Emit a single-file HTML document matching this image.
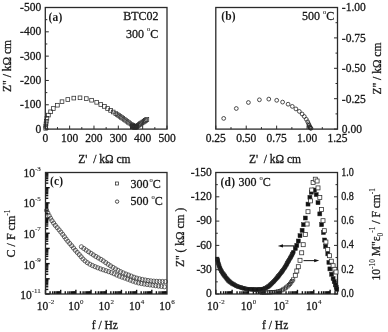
<!DOCTYPE html>
<html><head><meta charset="utf-8"><style>
html,body{margin:0;padding:0;background:#fff;}
svg{display:block;filter:blur(0.35px);}
text{font-family:"Liberation Serif", serif;fill:#1a1a1a;stroke:#1a1a1a;stroke-width:0.3px;}
.s{stroke-width:0.1px;}
</style></head><body>
<svg width="388" height="332" viewBox="0 0 388 332">
<rect width="388" height="332" fill="#fff"/>
<line x1="45.30" y1="129.10" x2="45.30" y2="125.60" stroke="#2a2a2a" stroke-width="1.0"/>
<line x1="45.30" y1="129.10" x2="48.80" y2="129.10" stroke="#2a2a2a" stroke-width="1.0"/>
<line x1="57.47" y1="129.10" x2="57.47" y2="127.10" stroke="#2a2a2a" stroke-width="1.0"/>
<line x1="45.30" y1="116.94" x2="47.30" y2="116.94" stroke="#2a2a2a" stroke-width="1.0"/>
<line x1="69.64" y1="129.10" x2="69.64" y2="125.60" stroke="#2a2a2a" stroke-width="1.0"/>
<line x1="45.30" y1="104.78" x2="48.80" y2="104.78" stroke="#2a2a2a" stroke-width="1.0"/>
<line x1="81.81" y1="129.10" x2="81.81" y2="127.10" stroke="#2a2a2a" stroke-width="1.0"/>
<line x1="45.30" y1="92.62" x2="47.30" y2="92.62" stroke="#2a2a2a" stroke-width="1.0"/>
<line x1="93.98" y1="129.10" x2="93.98" y2="125.60" stroke="#2a2a2a" stroke-width="1.0"/>
<line x1="45.30" y1="80.46" x2="48.80" y2="80.46" stroke="#2a2a2a" stroke-width="1.0"/>
<line x1="106.15" y1="129.10" x2="106.15" y2="127.10" stroke="#2a2a2a" stroke-width="1.0"/>
<line x1="45.30" y1="68.30" x2="47.30" y2="68.30" stroke="#2a2a2a" stroke-width="1.0"/>
<line x1="118.32" y1="129.10" x2="118.32" y2="125.60" stroke="#2a2a2a" stroke-width="1.0"/>
<line x1="45.30" y1="56.14" x2="48.80" y2="56.14" stroke="#2a2a2a" stroke-width="1.0"/>
<line x1="130.49" y1="129.10" x2="130.49" y2="127.10" stroke="#2a2a2a" stroke-width="1.0"/>
<line x1="45.30" y1="43.98" x2="47.30" y2="43.98" stroke="#2a2a2a" stroke-width="1.0"/>
<line x1="142.66" y1="129.10" x2="142.66" y2="125.60" stroke="#2a2a2a" stroke-width="1.0"/>
<line x1="45.30" y1="31.82" x2="48.80" y2="31.82" stroke="#2a2a2a" stroke-width="1.0"/>
<line x1="154.83" y1="129.10" x2="154.83" y2="127.10" stroke="#2a2a2a" stroke-width="1.0"/>
<line x1="45.30" y1="19.66" x2="47.30" y2="19.66" stroke="#2a2a2a" stroke-width="1.0"/>
<line x1="167.00" y1="129.10" x2="167.00" y2="125.60" stroke="#2a2a2a" stroke-width="1.0"/>
<line x1="45.30" y1="7.50" x2="48.80" y2="7.50" stroke="#2a2a2a" stroke-width="1.0"/>
<rect x="45.3" y="7.5" width="121.7" height="121.6" fill="none" stroke="#2a2a2a" stroke-width="1.3"/>
<text x="45.30" y="142.30" font-size="11.5" text-anchor="middle" >0</text>
<text x="41.20" y="132.60" font-size="11.5" text-anchor="end" >0</text>
<text x="69.64" y="142.30" font-size="11.5" text-anchor="middle" >100</text>
<text x="41.20" y="108.28" font-size="11.5" text-anchor="end" >-100</text>
<text x="93.98" y="142.30" font-size="11.5" text-anchor="middle" >200</text>
<text x="41.20" y="83.96" font-size="11.5" text-anchor="end" >-200</text>
<text x="118.32" y="142.30" font-size="11.5" text-anchor="middle" >300</text>
<text x="41.20" y="59.64" font-size="11.5" text-anchor="end" >-300</text>
<text x="142.66" y="142.30" font-size="11.5" text-anchor="middle" >400</text>
<text x="41.20" y="35.32" font-size="11.5" text-anchor="end" >-400</text>
<text x="167.00" y="142.30" font-size="11.5" text-anchor="middle" >500</text>
<text x="41.20" y="11.00" font-size="11.5" text-anchor="end" >-500</text>
<text x="104.40" y="162.70" font-size="11.5" text-anchor="middle" >Z' &#160;/ k&#937; cm</text>
<text transform="translate(11.0,66) rotate(-90)" font-size="11.5" text-anchor="middle">Z" / k&#937; cm</text>
<text x="48.6" y="20.6" font-size="11.5" font-weight="bold" style="stroke-width:0" letter-spacing="0.2">(a)</text>
<text x="158.50" y="20.30" font-size="12" text-anchor="end" >BTC02</text>
<text x="158.3" y="37.6" font-size="12" text-anchor="end">300 <tspan dy="-6.2" font-size="6.5" class="s">o</tspan><tspan dy="6.2">C</tspan></text>
<rect x="43.85" y="126.45" width="3.7" height="3.7" fill="none" stroke="#2a2a2a" stroke-width="0.75"/>
<rect x="43.95" y="124.35" width="3.7" height="3.7" fill="none" stroke="#2a2a2a" stroke-width="0.75"/>
<rect x="44.15" y="121.95" width="3.7" height="3.7" fill="none" stroke="#2a2a2a" stroke-width="0.75"/>
<rect x="44.45" y="119.35" width="3.7" height="3.7" fill="none" stroke="#2a2a2a" stroke-width="0.75"/>
<rect x="45.05" y="116.45" width="3.7" height="3.7" fill="none" stroke="#2a2a2a" stroke-width="0.75"/>
<rect x="46.55" y="113.25" width="3.7" height="3.7" fill="none" stroke="#2a2a2a" stroke-width="0.75"/>
<rect x="48.75" y="109.95" width="3.7" height="3.7" fill="none" stroke="#2a2a2a" stroke-width="0.75"/>
<rect x="51.45" y="106.65" width="3.7" height="3.7" fill="none" stroke="#2a2a2a" stroke-width="0.75"/>
<rect x="55.55" y="103.35" width="3.7" height="3.7" fill="none" stroke="#2a2a2a" stroke-width="0.75"/>
<rect x="60.15" y="99.85" width="3.7" height="3.7" fill="none" stroke="#2a2a2a" stroke-width="0.75"/>
<rect x="65.95" y="97.65" width="3.7" height="3.7" fill="none" stroke="#2a2a2a" stroke-width="0.75"/>
<rect x="71.95" y="96.25" width="3.7" height="3.7" fill="none" stroke="#2a2a2a" stroke-width="0.75"/>
<rect x="78.15" y="95.95" width="3.7" height="3.7" fill="none" stroke="#2a2a2a" stroke-width="0.75"/>
<rect x="84.45" y="96.75" width="3.7" height="3.7" fill="none" stroke="#2a2a2a" stroke-width="0.75"/>
<rect x="89.75" y="98.35" width="3.7" height="3.7" fill="none" stroke="#2a2a2a" stroke-width="0.75"/>
<rect x="94.85" y="100.45" width="3.7" height="3.7" fill="none" stroke="#2a2a2a" stroke-width="0.75"/>
<rect x="98.95" y="102.65" width="3.7" height="3.7" fill="none" stroke="#2a2a2a" stroke-width="0.75"/>
<rect x="102.55" y="104.55" width="3.7" height="3.7" fill="none" stroke="#2a2a2a" stroke-width="0.75"/>
<rect x="105.75" y="106.65" width="3.7" height="3.7" fill="none" stroke="#2a2a2a" stroke-width="0.75"/>
<rect x="108.75" y="108.55" width="3.7" height="3.7" fill="none" stroke="#2a2a2a" stroke-width="0.75"/>
<rect x="111.35" y="110.15" width="3.7" height="3.7" fill="none" stroke="#2a2a2a" stroke-width="0.75"/>
<rect x="113.95" y="111.75" width="3.7" height="3.7" fill="none" stroke="#2a2a2a" stroke-width="0.75"/>
<rect x="115.37" y="112.69" width="3.7" height="3.7" fill="none" stroke="#333" stroke-width="0.65"/>
<rect x="116.78" y="113.63" width="3.7" height="3.7" fill="none" stroke="#333" stroke-width="0.65"/>
<rect x="118.19" y="114.58" width="3.7" height="3.7" fill="none" stroke="#333" stroke-width="0.65"/>
<rect x="119.59" y="115.55" width="3.7" height="3.7" fill="none" stroke="#333" stroke-width="0.65"/>
<rect x="120.98" y="116.52" width="3.7" height="3.7" fill="none" stroke="#333" stroke-width="0.65"/>
<rect x="122.37" y="117.50" width="3.7" height="3.7" fill="none" stroke="#333" stroke-width="0.65"/>
<rect x="123.76" y="118.48" width="3.7" height="3.7" fill="none" stroke="#333" stroke-width="0.65"/>
<rect x="125.15" y="119.46" width="3.7" height="3.7" fill="none" stroke="#333" stroke-width="0.65"/>
<rect x="126.54" y="120.44" width="3.7" height="3.7" fill="none" stroke="#333" stroke-width="0.65"/>
<rect x="127.94" y="121.41" width="3.7" height="3.7" fill="none" stroke="#333" stroke-width="0.65"/>
<rect x="129.35" y="122.35" width="3.7" height="3.7" fill="none" stroke="#333" stroke-width="0.65"/>
<rect x="130.78" y="123.28" width="3.7" height="3.7" fill="none" stroke="#333" stroke-width="0.65"/>
<rect x="132.20" y="124.21" width="3.7" height="3.7" fill="none" stroke="#333" stroke-width="0.65"/>
<rect x="133.63" y="125.13" width="3.7" height="3.7" fill="none" stroke="#333" stroke-width="0.65"/>
<rect x="133.55" y="125.05" width="3.9" height="3.9" fill="none" stroke="#2a2a2a" stroke-width="0.75"/>
<rect x="134.86" y="124.33" width="3.9" height="3.9" fill="none" stroke="#2a2a2a" stroke-width="0.75"/>
<rect x="136.14" y="123.54" width="3.9" height="3.9" fill="none" stroke="#2a2a2a" stroke-width="0.75"/>
<rect x="137.37" y="122.68" width="3.9" height="3.9" fill="none" stroke="#2a2a2a" stroke-width="0.75"/>
<rect x="138.60" y="121.82" width="3.9" height="3.9" fill="none" stroke="#2a2a2a" stroke-width="0.75"/>
<rect x="139.83" y="120.97" width="3.9" height="3.9" fill="none" stroke="#2a2a2a" stroke-width="0.75"/>
<rect x="141.07" y="120.12" width="3.9" height="3.9" fill="none" stroke="#2a2a2a" stroke-width="0.75"/>
<rect x="142.31" y="119.28" width="3.9" height="3.9" fill="none" stroke="#2a2a2a" stroke-width="0.75"/>
<rect x="143.56" y="118.45" width="3.9" height="3.9" fill="none" stroke="#2a2a2a" stroke-width="0.75"/>
<rect x="144.81" y="117.61" width="3.9" height="3.9" fill="none" stroke="#2a2a2a" stroke-width="0.75"/>
<rect x="130.55" y="123.85" width="3.9" height="3.9" fill="none" stroke="#2a2a2a" stroke-width="1.0"/>
<rect x="131.55" y="124.65" width="3.9" height="3.9" fill="none" stroke="#2a2a2a" stroke-width="1.0"/>
<rect x="132.55" y="125.15" width="3.9" height="3.9" fill="none" stroke="#2a2a2a" stroke-width="1.0"/>
<rect x="134.25" y="124.95" width="3.9" height="3.9" fill="none" stroke="#2a2a2a" stroke-width="1.0"/>
<line x1="215.80" y1="129.10" x2="215.80" y2="125.60" stroke="#2a2a2a" stroke-width="1.0"/>
<line x1="337.50" y1="129.10" x2="334.00" y2="129.10" stroke="#2a2a2a" stroke-width="1.0"/>
<line x1="231.01" y1="129.10" x2="231.01" y2="127.10" stroke="#2a2a2a" stroke-width="1.0"/>
<line x1="337.50" y1="113.90" x2="335.50" y2="113.90" stroke="#2a2a2a" stroke-width="1.0"/>
<line x1="246.23" y1="129.10" x2="246.23" y2="125.60" stroke="#2a2a2a" stroke-width="1.0"/>
<line x1="337.50" y1="98.70" x2="334.00" y2="98.70" stroke="#2a2a2a" stroke-width="1.0"/>
<line x1="261.44" y1="129.10" x2="261.44" y2="127.10" stroke="#2a2a2a" stroke-width="1.0"/>
<line x1="337.50" y1="83.50" x2="335.50" y2="83.50" stroke="#2a2a2a" stroke-width="1.0"/>
<line x1="276.65" y1="129.10" x2="276.65" y2="125.60" stroke="#2a2a2a" stroke-width="1.0"/>
<line x1="337.50" y1="68.30" x2="334.00" y2="68.30" stroke="#2a2a2a" stroke-width="1.0"/>
<line x1="291.86" y1="129.10" x2="291.86" y2="127.10" stroke="#2a2a2a" stroke-width="1.0"/>
<line x1="337.50" y1="53.10" x2="335.50" y2="53.10" stroke="#2a2a2a" stroke-width="1.0"/>
<line x1="307.07" y1="129.10" x2="307.07" y2="125.60" stroke="#2a2a2a" stroke-width="1.0"/>
<line x1="337.50" y1="37.90" x2="334.00" y2="37.90" stroke="#2a2a2a" stroke-width="1.0"/>
<line x1="322.29" y1="129.10" x2="322.29" y2="127.10" stroke="#2a2a2a" stroke-width="1.0"/>
<line x1="337.50" y1="22.70" x2="335.50" y2="22.70" stroke="#2a2a2a" stroke-width="1.0"/>
<line x1="337.50" y1="129.10" x2="337.50" y2="125.60" stroke="#2a2a2a" stroke-width="1.0"/>
<line x1="337.50" y1="7.50" x2="334.00" y2="7.50" stroke="#2a2a2a" stroke-width="1.0"/>
<rect x="215.8" y="7.5" width="121.69999999999999" height="121.6" fill="none" stroke="#2a2a2a" stroke-width="1.3"/>
<text x="215.80" y="142.30" font-size="11.5" text-anchor="middle" >0.25</text>
<text x="246.23" y="142.30" font-size="11.5" text-anchor="middle" >0.50</text>
<text x="276.65" y="142.30" font-size="11.5" text-anchor="middle" >0.75</text>
<text x="307.07" y="142.30" font-size="11.5" text-anchor="middle" >1.00</text>
<text x="337.50" y="142.30" font-size="11.5" text-anchor="middle" >1.25</text>
<text x="341.80" y="133.20" font-size="11.5" text-anchor="start" >0.00</text>
<text x="341.80" y="102.80" font-size="11.5" text-anchor="start" >-0.25</text>
<text x="341.80" y="72.40" font-size="11.5" text-anchor="start" >-0.50</text>
<text x="341.80" y="42.00" font-size="11.5" text-anchor="start" >-0.75</text>
<text x="341.80" y="10.60" font-size="11.5" text-anchor="start" >-1.00</text>
<text x="275.00" y="162.70" font-size="11.5" text-anchor="middle" >Z' &#160;/ k&#937; cm</text>
<text transform="translate(380.9,68.6) rotate(-90)" font-size="11.5" text-anchor="middle">Z" / k&#937; cm</text>
<text x="221.2" y="20.3" font-size="11.5" font-weight="bold" style="stroke-width:0" letter-spacing="0.2">(b)</text>
<text x="334.2" y="20.2" font-size="12" text-anchor="end">500 <tspan dy="-6.2" font-size="6.5" class="s">o</tspan><tspan dy="6.2">C</tspan></text>
<circle cx="223.70" cy="118.40" r="1.9" fill="none" stroke="#222" stroke-width="0.8"/>
<circle cx="236.30" cy="108.50" r="1.9" fill="none" stroke="#222" stroke-width="0.8"/>
<circle cx="248.40" cy="102.50" r="1.9" fill="none" stroke="#222" stroke-width="0.8"/>
<circle cx="259.40" cy="99.80" r="1.9" fill="none" stroke="#222" stroke-width="0.8"/>
<circle cx="268.80" cy="99.10" r="1.9" fill="none" stroke="#222" stroke-width="0.8"/>
<circle cx="276.70" cy="100.30" r="1.9" fill="none" stroke="#222" stroke-width="0.8"/>
<circle cx="282.60" cy="102.10" r="1.9" fill="none" stroke="#222" stroke-width="0.8"/>
<circle cx="288.10" cy="104.20" r="1.9" fill="none" stroke="#222" stroke-width="0.8"/>
<circle cx="292.30" cy="106.40" r="1.9" fill="none" stroke="#222" stroke-width="0.8"/>
<circle cx="295.90" cy="108.90" r="1.9" fill="none" stroke="#222" stroke-width="0.8"/>
<circle cx="299.30" cy="111.40" r="1.9" fill="none" stroke="#222" stroke-width="0.8"/>
<circle cx="302.10" cy="114.00" r="1.9" fill="none" stroke="#222" stroke-width="0.8"/>
<circle cx="304.30" cy="116.50" r="1.9" fill="none" stroke="#222" stroke-width="0.8"/>
<circle cx="306.30" cy="119.30" r="1.9" fill="none" stroke="#222" stroke-width="0.8"/>
<circle cx="307.70" cy="121.80" r="1.9" fill="none" stroke="#222" stroke-width="0.8"/>
<circle cx="308.60" cy="123.80" r="1.9" fill="none" stroke="#222" stroke-width="0.8"/>
<circle cx="309.20" cy="125.30" r="1.9" fill="none" stroke="#222" stroke-width="0.8"/>
<circle cx="309.60" cy="126.50" r="1.9" fill="none" stroke="#222" stroke-width="0.8"/>
<circle cx="310.00" cy="127.40" r="1.9" fill="none" stroke="#222" stroke-width="0.8"/>
<circle cx="310.40" cy="128.00" r="1.9" fill="none" stroke="#222" stroke-width="0.8"/>
<circle cx="311.00" cy="128.30" r="1.9" fill="none" stroke="#222" stroke-width="0.8"/>
<line x1="45.50" y1="294.00" x2="45.50" y2="289.80" stroke="#111" stroke-width="1.4"/>
<line x1="50.07" y1="294.00" x2="50.07" y2="291.20" stroke="#111" stroke-width="1.4"/>
<line x1="52.75" y1="294.00" x2="52.75" y2="291.20" stroke="#111" stroke-width="1.4"/>
<line x1="54.64" y1="294.00" x2="54.64" y2="291.20" stroke="#111" stroke-width="1.4"/>
<line x1="56.12" y1="294.00" x2="56.12" y2="291.20" stroke="#111" stroke-width="1.4"/>
<line x1="57.32" y1="294.00" x2="57.32" y2="291.20" stroke="#111" stroke-width="1.4"/>
<line x1="58.33" y1="294.00" x2="58.33" y2="291.20" stroke="#111" stroke-width="1.4"/>
<line x1="59.22" y1="294.00" x2="59.22" y2="291.20" stroke="#111" stroke-width="1.4"/>
<line x1="59.99" y1="294.00" x2="59.99" y2="291.20" stroke="#111" stroke-width="1.4"/>
<line x1="60.69" y1="294.00" x2="60.69" y2="289.80" stroke="#111" stroke-width="1.4"/>
<line x1="65.26" y1="294.00" x2="65.26" y2="291.20" stroke="#111" stroke-width="1.4"/>
<line x1="67.93" y1="294.00" x2="67.93" y2="291.20" stroke="#111" stroke-width="1.4"/>
<line x1="69.83" y1="294.00" x2="69.83" y2="291.20" stroke="#111" stroke-width="1.4"/>
<line x1="71.30" y1="294.00" x2="71.30" y2="291.20" stroke="#111" stroke-width="1.4"/>
<line x1="72.51" y1="294.00" x2="72.51" y2="291.20" stroke="#111" stroke-width="1.4"/>
<line x1="73.52" y1="294.00" x2="73.52" y2="291.20" stroke="#111" stroke-width="1.4"/>
<line x1="74.40" y1="294.00" x2="74.40" y2="291.20" stroke="#111" stroke-width="1.4"/>
<line x1="75.18" y1="294.00" x2="75.18" y2="291.20" stroke="#111" stroke-width="1.4"/>
<line x1="75.88" y1="294.00" x2="75.88" y2="289.80" stroke="#111" stroke-width="1.4"/>
<line x1="80.45" y1="294.00" x2="80.45" y2="291.20" stroke="#111" stroke-width="1.4"/>
<line x1="83.12" y1="294.00" x2="83.12" y2="291.20" stroke="#111" stroke-width="1.4"/>
<line x1="85.02" y1="294.00" x2="85.02" y2="291.20" stroke="#111" stroke-width="1.4"/>
<line x1="86.49" y1="294.00" x2="86.49" y2="291.20" stroke="#111" stroke-width="1.4"/>
<line x1="87.69" y1="294.00" x2="87.69" y2="291.20" stroke="#111" stroke-width="1.4"/>
<line x1="88.71" y1="294.00" x2="88.71" y2="291.20" stroke="#111" stroke-width="1.4"/>
<line x1="89.59" y1="294.00" x2="89.59" y2="291.20" stroke="#111" stroke-width="1.4"/>
<line x1="90.37" y1="294.00" x2="90.37" y2="291.20" stroke="#111" stroke-width="1.4"/>
<line x1="91.06" y1="294.00" x2="91.06" y2="289.80" stroke="#111" stroke-width="1.4"/>
<line x1="95.63" y1="294.00" x2="95.63" y2="291.20" stroke="#111" stroke-width="1.4"/>
<line x1="98.31" y1="294.00" x2="98.31" y2="291.20" stroke="#111" stroke-width="1.4"/>
<line x1="100.21" y1="294.00" x2="100.21" y2="291.20" stroke="#111" stroke-width="1.4"/>
<line x1="101.68" y1="294.00" x2="101.68" y2="291.20" stroke="#111" stroke-width="1.4"/>
<line x1="102.88" y1="294.00" x2="102.88" y2="291.20" stroke="#111" stroke-width="1.4"/>
<line x1="103.90" y1="294.00" x2="103.90" y2="291.20" stroke="#111" stroke-width="1.4"/>
<line x1="104.78" y1="294.00" x2="104.78" y2="291.20" stroke="#111" stroke-width="1.4"/>
<line x1="105.56" y1="294.00" x2="105.56" y2="291.20" stroke="#111" stroke-width="1.4"/>
<line x1="106.25" y1="294.00" x2="106.25" y2="289.80" stroke="#111" stroke-width="1.4"/>
<line x1="110.82" y1="294.00" x2="110.82" y2="291.20" stroke="#111" stroke-width="1.4"/>
<line x1="113.50" y1="294.00" x2="113.50" y2="291.20" stroke="#111" stroke-width="1.4"/>
<line x1="115.39" y1="294.00" x2="115.39" y2="291.20" stroke="#111" stroke-width="1.4"/>
<line x1="116.87" y1="294.00" x2="116.87" y2="291.20" stroke="#111" stroke-width="1.4"/>
<line x1="118.07" y1="294.00" x2="118.07" y2="291.20" stroke="#111" stroke-width="1.4"/>
<line x1="119.08" y1="294.00" x2="119.08" y2="291.20" stroke="#111" stroke-width="1.4"/>
<line x1="119.97" y1="294.00" x2="119.97" y2="291.20" stroke="#111" stroke-width="1.4"/>
<line x1="120.74" y1="294.00" x2="120.74" y2="291.20" stroke="#111" stroke-width="1.4"/>
<line x1="121.44" y1="294.00" x2="121.44" y2="289.80" stroke="#111" stroke-width="1.4"/>
<line x1="126.01" y1="294.00" x2="126.01" y2="291.20" stroke="#111" stroke-width="1.4"/>
<line x1="128.68" y1="294.00" x2="128.68" y2="291.20" stroke="#111" stroke-width="1.4"/>
<line x1="130.58" y1="294.00" x2="130.58" y2="291.20" stroke="#111" stroke-width="1.4"/>
<line x1="132.05" y1="294.00" x2="132.05" y2="291.20" stroke="#111" stroke-width="1.4"/>
<line x1="133.26" y1="294.00" x2="133.26" y2="291.20" stroke="#111" stroke-width="1.4"/>
<line x1="134.27" y1="294.00" x2="134.27" y2="291.20" stroke="#111" stroke-width="1.4"/>
<line x1="135.15" y1="294.00" x2="135.15" y2="291.20" stroke="#111" stroke-width="1.4"/>
<line x1="135.93" y1="294.00" x2="135.93" y2="291.20" stroke="#111" stroke-width="1.4"/>
<line x1="136.62" y1="294.00" x2="136.62" y2="289.80" stroke="#111" stroke-width="1.4"/>
<line x1="141.20" y1="294.00" x2="141.20" y2="291.20" stroke="#111" stroke-width="1.4"/>
<line x1="143.87" y1="294.00" x2="143.87" y2="291.20" stroke="#111" stroke-width="1.4"/>
<line x1="145.77" y1="294.00" x2="145.77" y2="291.20" stroke="#111" stroke-width="1.4"/>
<line x1="147.24" y1="294.00" x2="147.24" y2="291.20" stroke="#111" stroke-width="1.4"/>
<line x1="148.44" y1="294.00" x2="148.44" y2="291.20" stroke="#111" stroke-width="1.4"/>
<line x1="149.46" y1="294.00" x2="149.46" y2="291.20" stroke="#111" stroke-width="1.4"/>
<line x1="150.34" y1="294.00" x2="150.34" y2="291.20" stroke="#111" stroke-width="1.4"/>
<line x1="151.12" y1="294.00" x2="151.12" y2="291.20" stroke="#111" stroke-width="1.4"/>
<line x1="151.81" y1="294.00" x2="151.81" y2="289.80" stroke="#111" stroke-width="1.4"/>
<line x1="156.38" y1="294.00" x2="156.38" y2="291.20" stroke="#111" stroke-width="1.4"/>
<line x1="159.06" y1="294.00" x2="159.06" y2="291.20" stroke="#111" stroke-width="1.4"/>
<line x1="160.96" y1="294.00" x2="160.96" y2="291.20" stroke="#111" stroke-width="1.4"/>
<line x1="162.43" y1="294.00" x2="162.43" y2="291.20" stroke="#111" stroke-width="1.4"/>
<line x1="163.63" y1="294.00" x2="163.63" y2="291.20" stroke="#111" stroke-width="1.4"/>
<line x1="164.65" y1="294.00" x2="164.65" y2="291.20" stroke="#111" stroke-width="1.4"/>
<line x1="165.53" y1="294.00" x2="165.53" y2="291.20" stroke="#111" stroke-width="1.4"/>
<line x1="166.31" y1="294.00" x2="166.31" y2="291.20" stroke="#111" stroke-width="1.4"/>
<line x1="45.50" y1="294.00" x2="49.70" y2="294.00" stroke="#111" stroke-width="1.4"/>
<line x1="45.50" y1="289.43" x2="48.30" y2="289.43" stroke="#111" stroke-width="1.4"/>
<line x1="45.50" y1="286.75" x2="48.30" y2="286.75" stroke="#111" stroke-width="1.4"/>
<line x1="45.50" y1="284.86" x2="48.30" y2="284.86" stroke="#111" stroke-width="1.4"/>
<line x1="45.50" y1="283.38" x2="48.30" y2="283.38" stroke="#111" stroke-width="1.4"/>
<line x1="45.50" y1="282.18" x2="48.30" y2="282.18" stroke="#111" stroke-width="1.4"/>
<line x1="45.50" y1="281.17" x2="48.30" y2="281.17" stroke="#111" stroke-width="1.4"/>
<line x1="45.50" y1="280.28" x2="48.30" y2="280.28" stroke="#111" stroke-width="1.4"/>
<line x1="45.50" y1="279.51" x2="48.30" y2="279.51" stroke="#111" stroke-width="1.4"/>
<line x1="45.50" y1="278.81" x2="49.70" y2="278.81" stroke="#111" stroke-width="1.4"/>
<line x1="45.50" y1="274.24" x2="48.30" y2="274.24" stroke="#111" stroke-width="1.4"/>
<line x1="45.50" y1="271.57" x2="48.30" y2="271.57" stroke="#111" stroke-width="1.4"/>
<line x1="45.50" y1="269.67" x2="48.30" y2="269.67" stroke="#111" stroke-width="1.4"/>
<line x1="45.50" y1="268.20" x2="48.30" y2="268.20" stroke="#111" stroke-width="1.4"/>
<line x1="45.50" y1="266.99" x2="48.30" y2="266.99" stroke="#111" stroke-width="1.4"/>
<line x1="45.50" y1="265.98" x2="48.30" y2="265.98" stroke="#111" stroke-width="1.4"/>
<line x1="45.50" y1="265.10" x2="48.30" y2="265.10" stroke="#111" stroke-width="1.4"/>
<line x1="45.50" y1="264.32" x2="48.30" y2="264.32" stroke="#111" stroke-width="1.4"/>
<line x1="45.50" y1="263.62" x2="49.70" y2="263.62" stroke="#111" stroke-width="1.4"/>
<line x1="45.50" y1="259.05" x2="48.30" y2="259.05" stroke="#111" stroke-width="1.4"/>
<line x1="45.50" y1="256.38" x2="48.30" y2="256.38" stroke="#111" stroke-width="1.4"/>
<line x1="45.50" y1="254.48" x2="48.30" y2="254.48" stroke="#111" stroke-width="1.4"/>
<line x1="45.50" y1="253.01" x2="48.30" y2="253.01" stroke="#111" stroke-width="1.4"/>
<line x1="45.50" y1="251.81" x2="48.30" y2="251.81" stroke="#111" stroke-width="1.4"/>
<line x1="45.50" y1="250.79" x2="48.30" y2="250.79" stroke="#111" stroke-width="1.4"/>
<line x1="45.50" y1="249.91" x2="48.30" y2="249.91" stroke="#111" stroke-width="1.4"/>
<line x1="45.50" y1="249.13" x2="48.30" y2="249.13" stroke="#111" stroke-width="1.4"/>
<line x1="45.50" y1="248.44" x2="49.70" y2="248.44" stroke="#111" stroke-width="1.4"/>
<line x1="45.50" y1="243.87" x2="48.30" y2="243.87" stroke="#111" stroke-width="1.4"/>
<line x1="45.50" y1="241.19" x2="48.30" y2="241.19" stroke="#111" stroke-width="1.4"/>
<line x1="45.50" y1="239.29" x2="48.30" y2="239.29" stroke="#111" stroke-width="1.4"/>
<line x1="45.50" y1="237.82" x2="48.30" y2="237.82" stroke="#111" stroke-width="1.4"/>
<line x1="45.50" y1="236.62" x2="48.30" y2="236.62" stroke="#111" stroke-width="1.4"/>
<line x1="45.50" y1="235.60" x2="48.30" y2="235.60" stroke="#111" stroke-width="1.4"/>
<line x1="45.50" y1="234.72" x2="48.30" y2="234.72" stroke="#111" stroke-width="1.4"/>
<line x1="45.50" y1="233.94" x2="48.30" y2="233.94" stroke="#111" stroke-width="1.4"/>
<line x1="45.50" y1="233.25" x2="49.70" y2="233.25" stroke="#111" stroke-width="1.4"/>
<line x1="45.50" y1="228.68" x2="48.30" y2="228.68" stroke="#111" stroke-width="1.4"/>
<line x1="45.50" y1="226.00" x2="48.30" y2="226.00" stroke="#111" stroke-width="1.4"/>
<line x1="45.50" y1="224.11" x2="48.30" y2="224.11" stroke="#111" stroke-width="1.4"/>
<line x1="45.50" y1="222.63" x2="48.30" y2="222.63" stroke="#111" stroke-width="1.4"/>
<line x1="45.50" y1="221.43" x2="48.30" y2="221.43" stroke="#111" stroke-width="1.4"/>
<line x1="45.50" y1="220.42" x2="48.30" y2="220.42" stroke="#111" stroke-width="1.4"/>
<line x1="45.50" y1="219.53" x2="48.30" y2="219.53" stroke="#111" stroke-width="1.4"/>
<line x1="45.50" y1="218.76" x2="48.30" y2="218.76" stroke="#111" stroke-width="1.4"/>
<line x1="45.50" y1="218.06" x2="49.70" y2="218.06" stroke="#111" stroke-width="1.4"/>
<line x1="45.50" y1="213.49" x2="48.30" y2="213.49" stroke="#111" stroke-width="1.4"/>
<line x1="45.50" y1="210.82" x2="48.30" y2="210.82" stroke="#111" stroke-width="1.4"/>
<line x1="45.50" y1="208.92" x2="48.30" y2="208.92" stroke="#111" stroke-width="1.4"/>
<line x1="45.50" y1="207.45" x2="48.30" y2="207.45" stroke="#111" stroke-width="1.4"/>
<line x1="45.50" y1="206.24" x2="48.30" y2="206.24" stroke="#111" stroke-width="1.4"/>
<line x1="45.50" y1="205.23" x2="48.30" y2="205.23" stroke="#111" stroke-width="1.4"/>
<line x1="45.50" y1="204.35" x2="48.30" y2="204.35" stroke="#111" stroke-width="1.4"/>
<line x1="45.50" y1="203.57" x2="48.30" y2="203.57" stroke="#111" stroke-width="1.4"/>
<line x1="45.50" y1="202.88" x2="49.70" y2="202.88" stroke="#111" stroke-width="1.4"/>
<line x1="45.50" y1="198.30" x2="48.30" y2="198.30" stroke="#111" stroke-width="1.4"/>
<line x1="45.50" y1="195.63" x2="48.30" y2="195.63" stroke="#111" stroke-width="1.4"/>
<line x1="45.50" y1="193.73" x2="48.30" y2="193.73" stroke="#111" stroke-width="1.4"/>
<line x1="45.50" y1="192.26" x2="48.30" y2="192.26" stroke="#111" stroke-width="1.4"/>
<line x1="45.50" y1="191.06" x2="48.30" y2="191.06" stroke="#111" stroke-width="1.4"/>
<line x1="45.50" y1="190.04" x2="48.30" y2="190.04" stroke="#111" stroke-width="1.4"/>
<line x1="45.50" y1="189.16" x2="48.30" y2="189.16" stroke="#111" stroke-width="1.4"/>
<line x1="45.50" y1="188.38" x2="48.30" y2="188.38" stroke="#111" stroke-width="1.4"/>
<line x1="45.50" y1="187.69" x2="49.70" y2="187.69" stroke="#111" stroke-width="1.4"/>
<line x1="45.50" y1="183.12" x2="48.30" y2="183.12" stroke="#111" stroke-width="1.4"/>
<line x1="45.50" y1="180.44" x2="48.30" y2="180.44" stroke="#111" stroke-width="1.4"/>
<line x1="45.50" y1="178.54" x2="48.30" y2="178.54" stroke="#111" stroke-width="1.4"/>
<line x1="45.50" y1="177.07" x2="48.30" y2="177.07" stroke="#111" stroke-width="1.4"/>
<line x1="45.50" y1="175.87" x2="48.30" y2="175.87" stroke="#111" stroke-width="1.4"/>
<line x1="45.50" y1="174.85" x2="48.30" y2="174.85" stroke="#111" stroke-width="1.4"/>
<line x1="45.50" y1="173.97" x2="48.30" y2="173.97" stroke="#111" stroke-width="1.4"/>
<line x1="45.50" y1="173.19" x2="48.30" y2="173.19" stroke="#111" stroke-width="1.4"/>
<rect x="45.5" y="172.5" width="121.5" height="121.5" fill="none" stroke="#2a2a2a" stroke-width="1.3"/>
<text x="45.50" y="310" font-size="11.5" text-anchor="middle">10<tspan dy="-5.6" dx="0.4" font-size="7" class="s">-2</tspan></text>
<text x="75.88" y="310" font-size="11.5" text-anchor="middle">10<tspan dy="-5.6" dx="0.4" font-size="7" class="s">0</tspan></text>
<text x="106.25" y="310" font-size="11.5" text-anchor="middle">10<tspan dy="-5.6" dx="0.4" font-size="7" class="s">2</tspan></text>
<text x="136.62" y="310" font-size="11.5" text-anchor="middle">10<tspan dy="-5.6" dx="0.4" font-size="7" class="s">4</tspan></text>
<text x="167.00" y="310" font-size="11.5" text-anchor="middle">10<tspan dy="-5.6" dx="0.4" font-size="7" class="s">6</tspan></text>
<text x="40.8" y="176.80" font-size="11.5" text-anchor="end">10<tspan dy="-6.3" font-size="7" class="s">-3</tspan></text>
<text x="40.8" y="207.18" font-size="11.5" text-anchor="end">10<tspan dy="-6.3" font-size="7" class="s">-5</tspan></text>
<text x="40.8" y="237.65" font-size="11.5" text-anchor="end">10<tspan dy="-6.3" font-size="7" class="s">-7</tspan></text>
<text x="40.8" y="268.62" font-size="11.5" text-anchor="end">10<tspan dy="-6.3" font-size="7" class="s">-9</tspan></text>
<text x="40.8" y="299.40" font-size="11.5" text-anchor="end">10<tspan dy="-6.3" font-size="7" class="s">-11</tspan></text>
<text x="104.80" y="329.20" font-size="11.5" text-anchor="middle" >f / Hz</text>
<text transform="translate(15.1,233.5) rotate(-90)" font-size="12" text-anchor="middle">C / F cm<tspan dy="-5" font-size="7.5" class="s">-1</tspan></text>
<text x="50.0" y="185.0" font-size="11.5" font-weight="bold" style="stroke-width:0" letter-spacing="0.2">(c)</text>
<rect x="115.60" y="182.00" width="3.0" height="3.0" fill="none" stroke="#2a2a2a" stroke-width="0.75"/>
<circle cx="117.10" cy="201.60" r="1.7" fill="none" stroke="#222" stroke-width="0.8"/>
<text x="130.5" y="188.3" font-size="12" text-anchor="start">300&#8202;<tspan dy="-6.2" font-size="6.5" class="s">o</tspan><tspan dy="6.2">C</tspan></text>
<text x="130.5" y="205.0" font-size="12" text-anchor="start">500 <tspan dy="-6.2" font-size="6.5" class="s">o</tspan><tspan dy="6.2">C</tspan></text>
<circle cx="46.60" cy="210.40" r="2.1" fill="none" stroke="#2a2a2a" stroke-width="0.7"/>
<circle cx="47.84" cy="213.02" r="2.1" fill="none" stroke="#2a2a2a" stroke-width="0.7"/>
<circle cx="49.11" cy="215.63" r="2.1" fill="none" stroke="#2a2a2a" stroke-width="0.7"/>
<circle cx="50.47" cy="218.19" r="2.1" fill="none" stroke="#2a2a2a" stroke-width="0.7"/>
<circle cx="51.98" cy="220.66" r="2.1" fill="none" stroke="#2a2a2a" stroke-width="0.7"/>
<circle cx="53.61" cy="223.06" r="2.1" fill="none" stroke="#2a2a2a" stroke-width="0.7"/>
<circle cx="55.34" cy="225.39" r="2.1" fill="none" stroke="#2a2a2a" stroke-width="0.7"/>
<circle cx="57.20" cy="227.61" r="2.1" fill="none" stroke="#2a2a2a" stroke-width="0.7"/>
<circle cx="59.07" cy="229.83" r="2.1" fill="none" stroke="#2a2a2a" stroke-width="0.7"/>
<circle cx="60.88" cy="232.09" r="2.1" fill="none" stroke="#2a2a2a" stroke-width="0.7"/>
<circle cx="62.67" cy="234.38" r="2.1" fill="none" stroke="#2a2a2a" stroke-width="0.7"/>
<circle cx="64.40" cy="236.70" r="2.1" fill="none" stroke="#2a2a2a" stroke-width="0.7"/>
<circle cx="66.10" cy="239.05" r="2.1" fill="none" stroke="#2a2a2a" stroke-width="0.7"/>
<circle cx="67.89" cy="241.34" r="2.1" fill="none" stroke="#2a2a2a" stroke-width="0.7"/>
<circle cx="69.78" cy="243.53" r="2.1" fill="none" stroke="#2a2a2a" stroke-width="0.7"/>
<circle cx="71.67" cy="245.73" r="2.1" fill="none" stroke="#2a2a2a" stroke-width="0.7"/>
<circle cx="73.48" cy="248.00" r="2.1" fill="none" stroke="#2a2a2a" stroke-width="0.7"/>
<circle cx="75.31" cy="250.25" r="2.1" fill="none" stroke="#2a2a2a" stroke-width="0.7"/>
<circle cx="77.23" cy="252.42" r="2.1" fill="none" stroke="#2a2a2a" stroke-width="0.7"/>
<circle cx="79.21" cy="254.54" r="2.1" fill="none" stroke="#2a2a2a" stroke-width="0.7"/>
<circle cx="81.10" cy="256.74" r="2.1" fill="none" stroke="#2a2a2a" stroke-width="0.7"/>
<circle cx="82.96" cy="258.96" r="2.1" fill="none" stroke="#2a2a2a" stroke-width="0.7"/>
<circle cx="85.08" cy="260.94" r="2.1" fill="none" stroke="#2a2a2a" stroke-width="0.7"/>
<circle cx="87.39" cy="262.69" r="2.1" fill="none" stroke="#2a2a2a" stroke-width="0.7"/>
<circle cx="89.86" cy="264.22" r="2.1" fill="none" stroke="#2a2a2a" stroke-width="0.7"/>
<circle cx="92.45" cy="265.52" r="2.1" fill="none" stroke="#2a2a2a" stroke-width="0.7"/>
<circle cx="95.10" cy="266.69" r="2.1" fill="none" stroke="#2a2a2a" stroke-width="0.7"/>
<circle cx="97.78" cy="267.79" r="2.1" fill="none" stroke="#2a2a2a" stroke-width="0.7"/>
<circle cx="100.49" cy="268.83" r="2.1" fill="none" stroke="#2a2a2a" stroke-width="0.7"/>
<circle cx="103.23" cy="269.76" r="2.1" fill="none" stroke="#2a2a2a" stroke-width="0.7"/>
<circle cx="105.98" cy="270.70" r="2.1" fill="none" stroke="#2a2a2a" stroke-width="0.7"/>
<circle cx="108.72" cy="271.63" r="2.1" fill="none" stroke="#2a2a2a" stroke-width="0.7"/>
<circle cx="111.45" cy="272.63" r="2.1" fill="none" stroke="#2a2a2a" stroke-width="0.7"/>
<circle cx="114.11" cy="273.78" r="2.1" fill="none" stroke="#2a2a2a" stroke-width="0.7"/>
<circle cx="116.73" cy="275.02" r="2.1" fill="none" stroke="#2a2a2a" stroke-width="0.7"/>
<circle cx="119.39" cy="276.17" r="2.1" fill="none" stroke="#2a2a2a" stroke-width="0.7"/>
<circle cx="122.12" cy="277.16" r="2.1" fill="none" stroke="#2a2a2a" stroke-width="0.7"/>
<circle cx="124.86" cy="278.11" r="2.1" fill="none" stroke="#2a2a2a" stroke-width="0.7"/>
<circle cx="127.57" cy="279.12" r="2.1" fill="none" stroke="#2a2a2a" stroke-width="0.7"/>
<circle cx="130.28" cy="280.17" r="2.1" fill="none" stroke="#2a2a2a" stroke-width="0.7"/>
<circle cx="132.99" cy="281.20" r="2.1" fill="none" stroke="#2a2a2a" stroke-width="0.7"/>
<circle cx="135.74" cy="282.13" r="2.1" fill="none" stroke="#2a2a2a" stroke-width="0.7"/>
<circle cx="138.52" cy="282.92" r="2.1" fill="none" stroke="#2a2a2a" stroke-width="0.7"/>
<circle cx="141.36" cy="283.54" r="2.1" fill="none" stroke="#2a2a2a" stroke-width="0.7"/>
<circle cx="144.21" cy="284.05" r="2.1" fill="none" stroke="#2a2a2a" stroke-width="0.7"/>
<circle cx="147.08" cy="284.49" r="2.1" fill="none" stroke="#2a2a2a" stroke-width="0.7"/>
<circle cx="149.95" cy="284.90" r="2.1" fill="none" stroke="#2a2a2a" stroke-width="0.7"/>
<circle cx="152.82" cy="285.32" r="2.1" fill="none" stroke="#2a2a2a" stroke-width="0.7"/>
<circle cx="155.69" cy="285.71" r="2.1" fill="none" stroke="#2a2a2a" stroke-width="0.7"/>
<circle cx="158.57" cy="286.09" r="2.1" fill="none" stroke="#2a2a2a" stroke-width="0.7"/>
<circle cx="161.45" cy="286.44" r="2.1" fill="none" stroke="#2a2a2a" stroke-width="0.7"/>
<circle cx="164.32" cy="286.79" r="2.1" fill="none" stroke="#2a2a2a" stroke-width="0.7"/>
<circle cx="81.40" cy="246.80" r="2.1" fill="none" stroke="#2a2a2a" stroke-width="0.7"/>
<circle cx="83.78" cy="248.46" r="2.1" fill="none" stroke="#2a2a2a" stroke-width="0.7"/>
<circle cx="86.16" cy="250.11" r="2.1" fill="none" stroke="#2a2a2a" stroke-width="0.7"/>
<circle cx="88.56" cy="251.74" r="2.1" fill="none" stroke="#2a2a2a" stroke-width="0.7"/>
<circle cx="90.98" cy="253.34" r="2.1" fill="none" stroke="#2a2a2a" stroke-width="0.7"/>
<circle cx="93.41" cy="254.92" r="2.1" fill="none" stroke="#2a2a2a" stroke-width="0.7"/>
<circle cx="95.87" cy="256.46" r="2.1" fill="none" stroke="#2a2a2a" stroke-width="0.7"/>
<circle cx="98.37" cy="257.93" r="2.1" fill="none" stroke="#2a2a2a" stroke-width="0.7"/>
<circle cx="100.88" cy="259.37" r="2.1" fill="none" stroke="#2a2a2a" stroke-width="0.7"/>
<circle cx="103.34" cy="260.92" r="2.1" fill="none" stroke="#2a2a2a" stroke-width="0.7"/>
<circle cx="105.71" cy="262.58" r="2.1" fill="none" stroke="#2a2a2a" stroke-width="0.7"/>
<circle cx="108.09" cy="264.25" r="2.1" fill="none" stroke="#2a2a2a" stroke-width="0.7"/>
<circle cx="110.51" cy="265.84" r="2.1" fill="none" stroke="#2a2a2a" stroke-width="0.7"/>
<circle cx="112.97" cy="267.37" r="2.1" fill="none" stroke="#2a2a2a" stroke-width="0.7"/>
<circle cx="115.47" cy="268.85" r="2.1" fill="none" stroke="#2a2a2a" stroke-width="0.7"/>
<circle cx="117.99" cy="270.28" r="2.1" fill="none" stroke="#2a2a2a" stroke-width="0.7"/>
<circle cx="120.55" cy="271.65" r="2.1" fill="none" stroke="#2a2a2a" stroke-width="0.7"/>
<circle cx="123.16" cy="272.90" r="2.1" fill="none" stroke="#2a2a2a" stroke-width="0.7"/>
<circle cx="125.84" cy="274.02" r="2.1" fill="none" stroke="#2a2a2a" stroke-width="0.7"/>
<circle cx="128.55" cy="275.05" r="2.1" fill="none" stroke="#2a2a2a" stroke-width="0.7"/>
<circle cx="131.25" cy="276.10" r="2.1" fill="none" stroke="#2a2a2a" stroke-width="0.7"/>
<circle cx="133.93" cy="277.21" r="2.1" fill="none" stroke="#2a2a2a" stroke-width="0.7"/>
<circle cx="136.68" cy="278.13" r="2.1" fill="none" stroke="#2a2a2a" stroke-width="0.7"/>
<circle cx="139.49" cy="278.84" r="2.1" fill="none" stroke="#2a2a2a" stroke-width="0.7"/>
<circle cx="142.32" cy="279.45" r="2.1" fill="none" stroke="#2a2a2a" stroke-width="0.7"/>
<circle cx="145.17" cy="279.99" r="2.1" fill="none" stroke="#2a2a2a" stroke-width="0.7"/>
<circle cx="148.03" cy="280.46" r="2.1" fill="none" stroke="#2a2a2a" stroke-width="0.7"/>
<circle cx="150.91" cy="280.86" r="2.1" fill="none" stroke="#2a2a2a" stroke-width="0.7"/>
<circle cx="153.79" cy="281.15" r="2.1" fill="none" stroke="#2a2a2a" stroke-width="0.7"/>
<circle cx="156.69" cy="281.33" r="2.1" fill="none" stroke="#2a2a2a" stroke-width="0.7"/>
<circle cx="159.58" cy="281.44" r="2.1" fill="none" stroke="#2a2a2a" stroke-width="0.7"/>
<circle cx="162.48" cy="281.52" r="2.1" fill="none" stroke="#2a2a2a" stroke-width="0.7"/>
<circle cx="165.38" cy="281.58" r="2.1" fill="none" stroke="#2a2a2a" stroke-width="0.7"/>
<line x1="215.80" y1="294.00" x2="215.80" y2="289.80" stroke="#111" stroke-width="1.4"/>
<line x1="220.72" y1="294.00" x2="220.72" y2="291.20" stroke="#111" stroke-width="1.4"/>
<line x1="223.59" y1="294.00" x2="223.59" y2="291.20" stroke="#111" stroke-width="1.4"/>
<line x1="225.63" y1="294.00" x2="225.63" y2="291.20" stroke="#111" stroke-width="1.4"/>
<line x1="227.21" y1="294.00" x2="227.21" y2="291.20" stroke="#111" stroke-width="1.4"/>
<line x1="228.51" y1="294.00" x2="228.51" y2="291.20" stroke="#111" stroke-width="1.4"/>
<line x1="229.60" y1="294.00" x2="229.60" y2="291.20" stroke="#111" stroke-width="1.4"/>
<line x1="230.55" y1="294.00" x2="230.55" y2="291.20" stroke="#111" stroke-width="1.4"/>
<line x1="231.38" y1="294.00" x2="231.38" y2="291.20" stroke="#111" stroke-width="1.4"/>
<line x1="232.13" y1="294.00" x2="232.13" y2="289.80" stroke="#111" stroke-width="1.4"/>
<line x1="237.05" y1="294.00" x2="237.05" y2="291.20" stroke="#111" stroke-width="1.4"/>
<line x1="239.92" y1="294.00" x2="239.92" y2="291.20" stroke="#111" stroke-width="1.4"/>
<line x1="241.96" y1="294.00" x2="241.96" y2="291.20" stroke="#111" stroke-width="1.4"/>
<line x1="243.54" y1="294.00" x2="243.54" y2="291.20" stroke="#111" stroke-width="1.4"/>
<line x1="244.84" y1="294.00" x2="244.84" y2="291.20" stroke="#111" stroke-width="1.4"/>
<line x1="245.93" y1="294.00" x2="245.93" y2="291.20" stroke="#111" stroke-width="1.4"/>
<line x1="246.88" y1="294.00" x2="246.88" y2="291.20" stroke="#111" stroke-width="1.4"/>
<line x1="247.71" y1="294.00" x2="247.71" y2="291.20" stroke="#111" stroke-width="1.4"/>
<line x1="248.46" y1="294.00" x2="248.46" y2="289.80" stroke="#111" stroke-width="1.4"/>
<line x1="253.38" y1="294.00" x2="253.38" y2="291.20" stroke="#111" stroke-width="1.4"/>
<line x1="256.25" y1="294.00" x2="256.25" y2="291.20" stroke="#111" stroke-width="1.4"/>
<line x1="258.29" y1="294.00" x2="258.29" y2="291.20" stroke="#111" stroke-width="1.4"/>
<line x1="259.87" y1="294.00" x2="259.87" y2="291.20" stroke="#111" stroke-width="1.4"/>
<line x1="261.17" y1="294.00" x2="261.17" y2="291.20" stroke="#111" stroke-width="1.4"/>
<line x1="262.26" y1="294.00" x2="262.26" y2="291.20" stroke="#111" stroke-width="1.4"/>
<line x1="263.21" y1="294.00" x2="263.21" y2="291.20" stroke="#111" stroke-width="1.4"/>
<line x1="264.04" y1="294.00" x2="264.04" y2="291.20" stroke="#111" stroke-width="1.4"/>
<line x1="264.79" y1="294.00" x2="264.79" y2="289.80" stroke="#111" stroke-width="1.4"/>
<line x1="269.71" y1="294.00" x2="269.71" y2="291.20" stroke="#111" stroke-width="1.4"/>
<line x1="272.58" y1="294.00" x2="272.58" y2="291.20" stroke="#111" stroke-width="1.4"/>
<line x1="274.62" y1="294.00" x2="274.62" y2="291.20" stroke="#111" stroke-width="1.4"/>
<line x1="276.20" y1="294.00" x2="276.20" y2="291.20" stroke="#111" stroke-width="1.4"/>
<line x1="277.50" y1="294.00" x2="277.50" y2="291.20" stroke="#111" stroke-width="1.4"/>
<line x1="278.59" y1="294.00" x2="278.59" y2="291.20" stroke="#111" stroke-width="1.4"/>
<line x1="279.54" y1="294.00" x2="279.54" y2="291.20" stroke="#111" stroke-width="1.4"/>
<line x1="280.37" y1="294.00" x2="280.37" y2="291.20" stroke="#111" stroke-width="1.4"/>
<line x1="281.12" y1="294.00" x2="281.12" y2="289.80" stroke="#111" stroke-width="1.4"/>
<line x1="286.04" y1="294.00" x2="286.04" y2="291.20" stroke="#111" stroke-width="1.4"/>
<line x1="288.91" y1="294.00" x2="288.91" y2="291.20" stroke="#111" stroke-width="1.4"/>
<line x1="290.95" y1="294.00" x2="290.95" y2="291.20" stroke="#111" stroke-width="1.4"/>
<line x1="292.53" y1="294.00" x2="292.53" y2="291.20" stroke="#111" stroke-width="1.4"/>
<line x1="293.83" y1="294.00" x2="293.83" y2="291.20" stroke="#111" stroke-width="1.4"/>
<line x1="294.92" y1="294.00" x2="294.92" y2="291.20" stroke="#111" stroke-width="1.4"/>
<line x1="295.87" y1="294.00" x2="295.87" y2="291.20" stroke="#111" stroke-width="1.4"/>
<line x1="296.70" y1="294.00" x2="296.70" y2="291.20" stroke="#111" stroke-width="1.4"/>
<line x1="297.45" y1="294.00" x2="297.45" y2="289.80" stroke="#111" stroke-width="1.4"/>
<line x1="302.37" y1="294.00" x2="302.37" y2="291.20" stroke="#111" stroke-width="1.4"/>
<line x1="305.24" y1="294.00" x2="305.24" y2="291.20" stroke="#111" stroke-width="1.4"/>
<line x1="307.28" y1="294.00" x2="307.28" y2="291.20" stroke="#111" stroke-width="1.4"/>
<line x1="308.86" y1="294.00" x2="308.86" y2="291.20" stroke="#111" stroke-width="1.4"/>
<line x1="310.16" y1="294.00" x2="310.16" y2="291.20" stroke="#111" stroke-width="1.4"/>
<line x1="311.25" y1="294.00" x2="311.25" y2="291.20" stroke="#111" stroke-width="1.4"/>
<line x1="312.20" y1="294.00" x2="312.20" y2="291.20" stroke="#111" stroke-width="1.4"/>
<line x1="313.03" y1="294.00" x2="313.03" y2="291.20" stroke="#111" stroke-width="1.4"/>
<line x1="313.78" y1="294.00" x2="313.78" y2="289.80" stroke="#111" stroke-width="1.4"/>
<line x1="318.70" y1="294.00" x2="318.70" y2="291.20" stroke="#111" stroke-width="1.4"/>
<line x1="321.57" y1="294.00" x2="321.57" y2="291.20" stroke="#111" stroke-width="1.4"/>
<line x1="323.61" y1="294.00" x2="323.61" y2="291.20" stroke="#111" stroke-width="1.4"/>
<line x1="325.19" y1="294.00" x2="325.19" y2="291.20" stroke="#111" stroke-width="1.4"/>
<line x1="326.49" y1="294.00" x2="326.49" y2="291.20" stroke="#111" stroke-width="1.4"/>
<line x1="327.58" y1="294.00" x2="327.58" y2="291.20" stroke="#111" stroke-width="1.4"/>
<line x1="328.53" y1="294.00" x2="328.53" y2="291.20" stroke="#111" stroke-width="1.4"/>
<line x1="329.36" y1="294.00" x2="329.36" y2="291.20" stroke="#111" stroke-width="1.4"/>
<line x1="330.11" y1="294.00" x2="330.11" y2="289.80" stroke="#111" stroke-width="1.4"/>
<line x1="335.03" y1="294.00" x2="335.03" y2="291.20" stroke="#111" stroke-width="1.4"/>
<line x1="215.80" y1="294.00" x2="219.30" y2="294.00" stroke="#2a2a2a" stroke-width="1.0"/>
<line x1="215.80" y1="281.85" x2="217.80" y2="281.85" stroke="#2a2a2a" stroke-width="1.0"/>
<line x1="215.80" y1="269.70" x2="219.30" y2="269.70" stroke="#2a2a2a" stroke-width="1.0"/>
<line x1="215.80" y1="257.55" x2="217.80" y2="257.55" stroke="#2a2a2a" stroke-width="1.0"/>
<line x1="215.80" y1="245.40" x2="219.30" y2="245.40" stroke="#2a2a2a" stroke-width="1.0"/>
<line x1="215.80" y1="233.25" x2="217.80" y2="233.25" stroke="#2a2a2a" stroke-width="1.0"/>
<line x1="215.80" y1="221.10" x2="219.30" y2="221.10" stroke="#2a2a2a" stroke-width="1.0"/>
<line x1="215.80" y1="208.95" x2="217.80" y2="208.95" stroke="#2a2a2a" stroke-width="1.0"/>
<line x1="215.80" y1="196.80" x2="219.30" y2="196.80" stroke="#2a2a2a" stroke-width="1.0"/>
<line x1="215.80" y1="184.65" x2="217.80" y2="184.65" stroke="#2a2a2a" stroke-width="1.0"/>
<line x1="215.80" y1="172.50" x2="219.30" y2="172.50" stroke="#2a2a2a" stroke-width="1.0"/>
<line x1="337.50" y1="294.00" x2="334.00" y2="294.00" stroke="#2a2a2a" stroke-width="1.0"/>
<line x1="337.50" y1="281.85" x2="335.50" y2="281.85" stroke="#2a2a2a" stroke-width="1.0"/>
<line x1="337.50" y1="269.70" x2="334.00" y2="269.70" stroke="#2a2a2a" stroke-width="1.0"/>
<line x1="337.50" y1="257.55" x2="335.50" y2="257.55" stroke="#2a2a2a" stroke-width="1.0"/>
<line x1="337.50" y1="245.40" x2="334.00" y2="245.40" stroke="#2a2a2a" stroke-width="1.0"/>
<line x1="337.50" y1="233.25" x2="335.50" y2="233.25" stroke="#2a2a2a" stroke-width="1.0"/>
<line x1="337.50" y1="221.10" x2="334.00" y2="221.10" stroke="#2a2a2a" stroke-width="1.0"/>
<line x1="337.50" y1="208.95" x2="335.50" y2="208.95" stroke="#2a2a2a" stroke-width="1.0"/>
<line x1="337.50" y1="196.80" x2="334.00" y2="196.80" stroke="#2a2a2a" stroke-width="1.0"/>
<line x1="337.50" y1="184.65" x2="335.50" y2="184.65" stroke="#2a2a2a" stroke-width="1.0"/>
<line x1="337.50" y1="172.50" x2="334.00" y2="172.50" stroke="#2a2a2a" stroke-width="1.0"/>
<rect x="215.8" y="172.5" width="121.69999999999999" height="121.5" fill="none" stroke="#2a2a2a" stroke-width="1.3"/>
<text x="215.80" y="310" font-size="11.5" text-anchor="middle">10<tspan dy="-5.6" dx="0.4" font-size="7" class="s">-2</tspan></text>
<text x="248.46" y="310" font-size="11.5" text-anchor="middle">10<tspan dy="-5.6" dx="0.4" font-size="7" class="s">0</tspan></text>
<text x="281.12" y="310" font-size="11.5" text-anchor="middle">10<tspan dy="-5.6" dx="0.4" font-size="7" class="s">2</tspan></text>
<text x="313.78" y="310" font-size="11.5" text-anchor="middle">10<tspan dy="-5.6" dx="0.4" font-size="7" class="s">4</tspan></text>
<text x="211.80" y="297.30" font-size="11.5" text-anchor="end" >0</text>
<text x="211.80" y="273.00" font-size="11.5" text-anchor="end" >-30</text>
<text x="211.80" y="248.70" font-size="11.5" text-anchor="end" >-60</text>
<text x="211.80" y="224.40" font-size="11.5" text-anchor="end" >-90</text>
<text x="211.80" y="200.10" font-size="11.5" text-anchor="end" >-120</text>
<text x="211.80" y="175.80" font-size="11.5" text-anchor="end" >-150</text>
<text transform="translate(341.2,297.00) scale(0.88,1)" font-size="11.5">0.0</text>
<text transform="translate(341.2,272.70) scale(0.88,1)" font-size="11.5">0.2</text>
<text transform="translate(341.2,248.40) scale(0.88,1)" font-size="11.5">0.4</text>
<text transform="translate(341.2,224.10) scale(0.88,1)" font-size="11.5">0.6</text>
<text transform="translate(341.2,199.80) scale(0.88,1)" font-size="11.5">0.8</text>
<text transform="translate(341.2,175.50) scale(0.88,1)" font-size="11.5">1.0</text>
<text x="275.20" y="329.20" font-size="11.5" text-anchor="middle" >f / Hz</text>
<text transform="translate(183.6,237.4) rotate(-90)" font-size="11.5" text-anchor="middle">Z" ( k&#937; cm )</text>
<text transform="translate(380.2,234.3) rotate(-90)" font-size="11.5" text-anchor="middle">10<tspan dy="-5" font-size="7.5" class="s">-10</tspan><tspan dy="5"> M"&#949;</tspan><tspan dy="2.5" font-size="7.5" class="s">0</tspan><tspan dy="-7.5" font-size="7.5" class="s">-1</tspan><tspan dy="5"> / F cm</tspan><tspan dy="-5" font-size="7.5" class="s">-1</tspan></text>
<text x="220.6" y="186.0" font-size="11.5" font-weight="bold" style="stroke-width:0" letter-spacing="0.2">(d)</text>
<text x="238.5" y="186.4" font-size="12" text-anchor="start">300 <tspan dy="-6.2" font-size="6.5" class="s">o</tspan><tspan dy="6.2">C</tspan></text>
<rect x="215.60" y="257.10" width="3.4" height="3.4" fill="#111" stroke="#2a2a2a" stroke-width="0.5"/>
<rect x="215.88" y="258.37" width="3.4" height="3.4" fill="#111" stroke="#2a2a2a" stroke-width="0.5"/>
<rect x="216.16" y="259.64" width="3.4" height="3.4" fill="#111" stroke="#2a2a2a" stroke-width="0.5"/>
<rect x="216.45" y="260.91" width="3.4" height="3.4" fill="#111" stroke="#2a2a2a" stroke-width="0.5"/>
<rect x="216.78" y="262.16" width="3.4" height="3.4" fill="#111" stroke="#2a2a2a" stroke-width="0.5"/>
<rect x="217.15" y="263.41" width="3.4" height="3.4" fill="#111" stroke="#2a2a2a" stroke-width="0.5"/>
<rect x="217.57" y="264.64" width="3.4" height="3.4" fill="#111" stroke="#2a2a2a" stroke-width="0.5"/>
<rect x="218.05" y="265.85" width="3.4" height="3.4" fill="#111" stroke="#2a2a2a" stroke-width="0.5"/>
<rect x="218.56" y="267.04" width="3.4" height="3.4" fill="#111" stroke="#2a2a2a" stroke-width="0.5"/>
<rect x="219.10" y="268.22" width="3.4" height="3.4" fill="#111" stroke="#2a2a2a" stroke-width="0.5"/>
<rect x="219.69" y="269.39" width="3.4" height="3.4" fill="#111" stroke="#2a2a2a" stroke-width="0.5"/>
<rect x="220.31" y="270.52" width="3.4" height="3.4" fill="#111" stroke="#2a2a2a" stroke-width="0.5"/>
<rect x="221.01" y="271.62" width="3.4" height="3.4" fill="#111" stroke="#2a2a2a" stroke-width="0.5"/>
<rect x="221.76" y="272.69" width="3.4" height="3.4" fill="#111" stroke="#2a2a2a" stroke-width="0.5"/>
<rect x="222.54" y="273.72" width="3.4" height="3.4" fill="#111" stroke="#2a2a2a" stroke-width="0.5"/>
<rect x="223.35" y="274.74" width="3.4" height="3.4" fill="#111" stroke="#2a2a2a" stroke-width="0.5"/>
<rect x="224.16" y="275.75" width="3.4" height="3.4" fill="#111" stroke="#2a2a2a" stroke-width="0.5"/>
<rect x="224.97" y="276.78" width="3.4" height="3.4" fill="#111" stroke="#2a2a2a" stroke-width="0.5"/>
<rect x="225.79" y="277.79" width="3.4" height="3.4" fill="#111" stroke="#2a2a2a" stroke-width="0.5"/>
<rect x="226.65" y="278.76" width="3.4" height="3.4" fill="#111" stroke="#2a2a2a" stroke-width="0.5"/>
<rect x="227.59" y="279.65" width="3.4" height="3.4" fill="#111" stroke="#2a2a2a" stroke-width="0.5"/>
<rect x="228.60" y="280.47" width="3.4" height="3.4" fill="#111" stroke="#2a2a2a" stroke-width="0.5"/>
<rect x="229.65" y="281.23" width="3.4" height="3.4" fill="#111" stroke="#2a2a2a" stroke-width="0.5"/>
<rect x="230.73" y="281.96" width="3.4" height="3.4" fill="#111" stroke="#2a2a2a" stroke-width="0.5"/>
<rect x="231.82" y="282.66" width="3.4" height="3.4" fill="#111" stroke="#2a2a2a" stroke-width="0.5"/>
<rect x="232.95" y="283.32" width="3.4" height="3.4" fill="#111" stroke="#2a2a2a" stroke-width="0.5"/>
<rect x="234.11" y="283.91" width="3.4" height="3.4" fill="#111" stroke="#2a2a2a" stroke-width="0.5"/>
<rect x="235.29" y="284.43" width="3.4" height="3.4" fill="#111" stroke="#2a2a2a" stroke-width="0.5"/>
<rect x="236.51" y="284.90" width="3.4" height="3.4" fill="#111" stroke="#2a2a2a" stroke-width="0.5"/>
<rect x="237.74" y="285.31" width="3.4" height="3.4" fill="#111" stroke="#2a2a2a" stroke-width="0.5"/>
<rect x="238.97" y="285.72" width="3.4" height="3.4" fill="#111" stroke="#2a2a2a" stroke-width="0.5"/>
<rect x="240.21" y="286.11" width="3.4" height="3.4" fill="#111" stroke="#2a2a2a" stroke-width="0.5"/>
<rect x="241.46" y="286.47" width="3.4" height="3.4" fill="#111" stroke="#2a2a2a" stroke-width="0.5"/>
<rect x="242.73" y="286.78" width="3.4" height="3.4" fill="#111" stroke="#2a2a2a" stroke-width="0.5"/>
<rect x="244.00" y="287.02" width="3.4" height="3.4" fill="#111" stroke="#2a2a2a" stroke-width="0.5"/>
<rect x="245.29" y="287.21" width="3.4" height="3.4" fill="#111" stroke="#2a2a2a" stroke-width="0.5"/>
<rect x="246.58" y="287.36" width="3.4" height="3.4" fill="#111" stroke="#2a2a2a" stroke-width="0.5"/>
<rect x="247.87" y="287.50" width="3.4" height="3.4" fill="#111" stroke="#2a2a2a" stroke-width="0.5"/>
<rect x="249.17" y="287.61" width="3.4" height="3.4" fill="#111" stroke="#2a2a2a" stroke-width="0.5"/>
<rect x="250.46" y="287.71" width="3.4" height="3.4" fill="#111" stroke="#2a2a2a" stroke-width="0.5"/>
<rect x="251.76" y="287.78" width="3.4" height="3.4" fill="#111" stroke="#2a2a2a" stroke-width="0.5"/>
<rect x="253.06" y="287.83" width="3.4" height="3.4" fill="#111" stroke="#2a2a2a" stroke-width="0.5"/>
<rect x="254.36" y="287.84" width="3.4" height="3.4" fill="#111" stroke="#2a2a2a" stroke-width="0.5"/>
<rect x="255.66" y="287.82" width="3.4" height="3.4" fill="#111" stroke="#2a2a2a" stroke-width="0.5"/>
<rect x="256.96" y="287.77" width="3.4" height="3.4" fill="#111" stroke="#2a2a2a" stroke-width="0.5"/>
<rect x="258.26" y="287.68" width="3.4" height="3.4" fill="#111" stroke="#2a2a2a" stroke-width="0.5"/>
<rect x="259.55" y="287.54" width="3.4" height="3.4" fill="#111" stroke="#2a2a2a" stroke-width="0.5"/>
<rect x="260.83" y="287.31" width="3.4" height="3.4" fill="#111" stroke="#2a2a2a" stroke-width="0.5"/>
<rect x="262.09" y="287.00" width="3.4" height="3.4" fill="#111" stroke="#2a2a2a" stroke-width="0.5"/>
<rect x="263.34" y="286.63" width="3.4" height="3.4" fill="#111" stroke="#2a2a2a" stroke-width="0.5"/>
<rect x="264.54" y="286.13" width="3.4" height="3.4" fill="#111" stroke="#2a2a2a" stroke-width="0.5"/>
<rect x="265.67" y="285.50" width="3.4" height="3.4" fill="#111" stroke="#2a2a2a" stroke-width="0.5"/>
<rect x="266.73" y="284.76" width="3.4" height="3.4" fill="#111" stroke="#2a2a2a" stroke-width="0.5"/>
<rect x="267.75" y="283.94" width="3.4" height="3.4" fill="#111" stroke="#2a2a2a" stroke-width="0.5"/>
<rect x="268.73" y="283.09" width="3.4" height="3.4" fill="#111" stroke="#2a2a2a" stroke-width="0.5"/>
<rect x="269.68" y="282.21" width="3.4" height="3.4" fill="#111" stroke="#2a2a2a" stroke-width="0.5"/>
<rect x="270.61" y="281.30" width="3.4" height="3.4" fill="#111" stroke="#2a2a2a" stroke-width="0.5"/>
<rect x="271.53" y="280.38" width="3.4" height="3.4" fill="#111" stroke="#2a2a2a" stroke-width="0.5"/>
<rect x="272.43" y="279.44" width="3.4" height="3.4" fill="#111" stroke="#2a2a2a" stroke-width="0.5"/>
<rect x="273.31" y="278.48" width="3.4" height="3.4" fill="#111" stroke="#2a2a2a" stroke-width="0.5"/>
<rect x="274.17" y="277.51" width="3.4" height="3.4" fill="#111" stroke="#2a2a2a" stroke-width="0.5"/>
<rect x="275.02" y="276.52" width="3.4" height="3.4" fill="#111" stroke="#2a2a2a" stroke-width="0.5"/>
<rect x="275.85" y="275.53" width="3.4" height="3.4" fill="#111" stroke="#2a2a2a" stroke-width="0.5"/>
<rect x="276.68" y="274.52" width="3.4" height="3.4" fill="#111" stroke="#2a2a2a" stroke-width="0.5"/>
<rect x="277.49" y="273.51" width="3.4" height="3.4" fill="#111" stroke="#2a2a2a" stroke-width="0.5"/>
<rect x="278.30" y="272.49" width="3.4" height="3.4" fill="#111" stroke="#2a2a2a" stroke-width="0.5"/>
<rect x="279.10" y="271.46" width="3.4" height="3.4" fill="#111" stroke="#2a2a2a" stroke-width="0.5"/>
<rect x="279.88" y="270.43" width="3.4" height="3.4" fill="#111" stroke="#2a2a2a" stroke-width="0.5"/>
<rect x="280.65" y="269.38" width="3.4" height="3.4" fill="#111" stroke="#2a2a2a" stroke-width="0.5"/>
<rect x="281.40" y="268.32" width="3.4" height="3.4" fill="#111" stroke="#2a2a2a" stroke-width="0.5"/>
<rect x="282.14" y="267.25" width="3.4" height="3.4" fill="#111" stroke="#2a2a2a" stroke-width="0.5"/>
<rect x="282.86" y="266.16" width="3.4" height="3.4" fill="#111" stroke="#2a2a2a" stroke-width="0.5"/>
<rect x="283.54" y="265.06" width="3.4" height="3.4" fill="#111" stroke="#2a2a2a" stroke-width="0.5"/>
<rect x="284.21" y="263.94" width="3.4" height="3.4" fill="#111" stroke="#2a2a2a" stroke-width="0.5"/>
<rect x="284.85" y="262.81" width="3.4" height="3.4" fill="#111" stroke="#2a2a2a" stroke-width="0.5"/>
<rect x="285.49" y="261.68" width="3.4" height="3.4" fill="#111" stroke="#2a2a2a" stroke-width="0.5"/>
<rect x="286.12" y="260.54" width="3.4" height="3.4" fill="#111" stroke="#2a2a2a" stroke-width="0.5"/>
<rect x="286.75" y="259.40" width="3.4" height="3.4" fill="#111" stroke="#2a2a2a" stroke-width="0.5"/>
<rect x="287.39" y="258.27" width="3.4" height="3.4" fill="#111" stroke="#2a2a2a" stroke-width="0.5"/>
<rect x="288.05" y="257.15" width="3.4" height="3.4" fill="#111" stroke="#2a2a2a" stroke-width="0.5"/>
<rect x="288.71" y="256.03" width="3.4" height="3.4" fill="#111" stroke="#2a2a2a" stroke-width="0.5"/>
<rect x="289.36" y="254.91" width="3.4" height="3.4" fill="#111" stroke="#2a2a2a" stroke-width="0.5"/>
<rect x="289.98" y="253.77" width="3.4" height="3.4" fill="#111" stroke="#2a2a2a" stroke-width="0.5"/>
<rect x="290.58" y="252.61" width="3.4" height="3.4" fill="#111" stroke="#2a2a2a" stroke-width="0.5"/>
<rect x="291.17" y="251.45" width="3.4" height="3.4" fill="#111" stroke="#2a2a2a" stroke-width="0.5"/>
<rect x="291.75" y="250.29" width="3.4" height="3.4" fill="#111" stroke="#2a2a2a" stroke-width="0.5"/>
<rect x="293.30" y="246.50" width="4.0" height="4.0" fill="#111" stroke="#2a2a2a" stroke-width="0.5"/>
<rect x="294.80" y="243.30" width="4.0" height="4.0" fill="#111" stroke="#2a2a2a" stroke-width="0.5"/>
<rect x="296.30" y="239.00" width="4.0" height="4.0" fill="#111" stroke="#2a2a2a" stroke-width="0.5"/>
<rect x="298.00" y="233.70" width="4.0" height="4.0" fill="#111" stroke="#2a2a2a" stroke-width="0.5"/>
<rect x="300.10" y="228.30" width="4.0" height="4.0" fill="#111" stroke="#2a2a2a" stroke-width="0.5"/>
<rect x="301.50" y="222.70" width="4.0" height="4.0" fill="#111" stroke="#2a2a2a" stroke-width="0.5"/>
<rect x="303.30" y="216.00" width="4.0" height="4.0" fill="#111" stroke="#2a2a2a" stroke-width="0.5"/>
<rect x="306.00" y="202.10" width="4.0" height="4.0" fill="#111" stroke="#2a2a2a" stroke-width="0.5"/>
<rect x="307.90" y="195.30" width="4.0" height="4.0" fill="#111" stroke="#2a2a2a" stroke-width="0.5"/>
<rect x="309.30" y="190.20" width="4.0" height="4.0" fill="#111" stroke="#2a2a2a" stroke-width="0.5"/>
<rect x="312.40" y="188.00" width="4.0" height="4.0" fill="#111" stroke="#2a2a2a" stroke-width="0.5"/>
<rect x="314.20" y="192.60" width="4.0" height="4.0" fill="#111" stroke="#2a2a2a" stroke-width="0.5"/>
<rect x="316.00" y="200.70" width="4.0" height="4.0" fill="#111" stroke="#2a2a2a" stroke-width="0.5"/>
<rect x="317.80" y="211.90" width="4.0" height="4.0" fill="#111" stroke="#2a2a2a" stroke-width="0.5"/>
<rect x="319.60" y="222.70" width="4.0" height="4.0" fill="#111" stroke="#2a2a2a" stroke-width="0.5"/>
<rect x="321.50" y="230.50" width="4.0" height="4.0" fill="#111" stroke="#2a2a2a" stroke-width="0.5"/>
<rect x="322.60" y="238.00" width="4.0" height="4.0" fill="#111" stroke="#2a2a2a" stroke-width="0.5"/>
<rect x="323.60" y="244.40" width="4.0" height="4.0" fill="#111" stroke="#2a2a2a" stroke-width="0.5"/>
<rect x="325.80" y="251.90" width="4.0" height="4.0" fill="#111" stroke="#2a2a2a" stroke-width="0.5"/>
<rect x="326.90" y="260.40" width="4.0" height="4.0" fill="#111" stroke="#2a2a2a" stroke-width="0.5"/>
<rect x="327.90" y="266.90" width="4.0" height="4.0" fill="#111" stroke="#2a2a2a" stroke-width="0.5"/>
<rect x="329.60" y="272.20" width="4.0" height="4.0" fill="#111" stroke="#2a2a2a" stroke-width="0.5"/>
<rect x="331.10" y="276.50" width="4.0" height="4.0" fill="#111" stroke="#2a2a2a" stroke-width="0.5"/>
<rect x="332.20" y="279.70" width="4.0" height="4.0" fill="#111" stroke="#2a2a2a" stroke-width="0.5"/>
<rect x="333.30" y="282.90" width="4.0" height="4.0" fill="#111" stroke="#2a2a2a" stroke-width="0.5"/>
<rect x="334.20" y="285.20" width="4.0" height="4.0" fill="#111" stroke="#2a2a2a" stroke-width="0.5"/>
<rect x="334.80" y="287.20" width="4.0" height="4.0" fill="#111" stroke="#2a2a2a" stroke-width="0.5"/>
<rect x="260.40" y="291.00" width="3.2" height="3.2" fill="none" stroke="#2a2a2a" stroke-width="0.7"/>
<rect x="262.20" y="290.94" width="3.2" height="3.2" fill="none" stroke="#2a2a2a" stroke-width="0.7"/>
<rect x="264.00" y="290.88" width="3.2" height="3.2" fill="none" stroke="#2a2a2a" stroke-width="0.7"/>
<rect x="265.80" y="290.82" width="3.2" height="3.2" fill="none" stroke="#2a2a2a" stroke-width="0.7"/>
<rect x="267.60" y="290.74" width="3.2" height="3.2" fill="none" stroke="#2a2a2a" stroke-width="0.7"/>
<rect x="269.39" y="290.64" width="3.2" height="3.2" fill="none" stroke="#2a2a2a" stroke-width="0.7"/>
<rect x="271.19" y="290.52" width="3.2" height="3.2" fill="none" stroke="#2a2a2a" stroke-width="0.7"/>
<rect x="272.98" y="290.36" width="3.2" height="3.2" fill="none" stroke="#2a2a2a" stroke-width="0.7"/>
<rect x="274.77" y="290.15" width="3.2" height="3.2" fill="none" stroke="#2a2a2a" stroke-width="0.7"/>
<rect x="276.55" y="289.86" width="3.2" height="3.2" fill="none" stroke="#2a2a2a" stroke-width="0.7"/>
<rect x="278.29" y="289.43" width="3.2" height="3.2" fill="none" stroke="#2a2a2a" stroke-width="0.7"/>
<rect x="279.96" y="288.77" width="3.2" height="3.2" fill="none" stroke="#2a2a2a" stroke-width="0.7"/>
<rect x="281.55" y="287.91" width="3.2" height="3.2" fill="none" stroke="#2a2a2a" stroke-width="0.7"/>
<rect x="283.07" y="286.96" width="3.2" height="3.2" fill="none" stroke="#2a2a2a" stroke-width="0.7"/>
<rect x="284.53" y="285.90" width="3.2" height="3.2" fill="none" stroke="#2a2a2a" stroke-width="0.7"/>
<rect x="285.92" y="284.77" width="3.2" height="3.2" fill="none" stroke="#2a2a2a" stroke-width="0.7"/>
<rect x="287.25" y="283.55" width="3.2" height="3.2" fill="none" stroke="#2a2a2a" stroke-width="0.7"/>
<rect x="288.47" y="282.22" width="3.2" height="3.2" fill="none" stroke="#2a2a2a" stroke-width="0.7"/>
<rect x="289.59" y="280.81" width="3.2" height="3.2" fill="none" stroke="#2a2a2a" stroke-width="0.7"/>
<rect x="290.63" y="279.35" width="3.2" height="3.2" fill="none" stroke="#2a2a2a" stroke-width="0.7"/>
<rect x="291.60" y="277.83" width="3.2" height="3.2" fill="none" stroke="#2a2a2a" stroke-width="0.7"/>
<rect x="293.30" y="273.30" width="4.0" height="4.0" fill="#fff" stroke="#2a2a2a" stroke-width="0.75"/>
<rect x="294.80" y="269.00" width="4.0" height="4.0" fill="#fff" stroke="#2a2a2a" stroke-width="0.75"/>
<rect x="296.30" y="264.70" width="4.0" height="4.0" fill="#fff" stroke="#2a2a2a" stroke-width="0.75"/>
<rect x="298.00" y="258.30" width="4.0" height="4.0" fill="#fff" stroke="#2a2a2a" stroke-width="0.75"/>
<rect x="299.70" y="250.80" width="4.0" height="4.0" fill="#fff" stroke="#2a2a2a" stroke-width="0.75"/>
<rect x="301.20" y="242.70" width="4.0" height="4.0" fill="#fff" stroke="#2a2a2a" stroke-width="0.75"/>
<rect x="303.30" y="232.60" width="4.0" height="4.0" fill="#fff" stroke="#2a2a2a" stroke-width="0.75"/>
<rect x="305.10" y="222.00" width="4.0" height="4.0" fill="#fff" stroke="#2a2a2a" stroke-width="0.75"/>
<rect x="306.00" y="209.70" width="4.0" height="4.0" fill="#fff" stroke="#2a2a2a" stroke-width="0.75"/>
<rect x="308.60" y="198.90" width="4.0" height="4.0" fill="#fff" stroke="#2a2a2a" stroke-width="0.75"/>
<rect x="309.70" y="188.00" width="4.0" height="4.0" fill="#fff" stroke="#2a2a2a" stroke-width="0.75"/>
<rect x="311.10" y="180.50" width="4.0" height="4.0" fill="#fff" stroke="#2a2a2a" stroke-width="0.75"/>
<rect x="313.30" y="177.20" width="4.0" height="4.0" fill="#fff" stroke="#2a2a2a" stroke-width="0.75"/>
<rect x="315.10" y="179.00" width="4.0" height="4.0" fill="#fff" stroke="#2a2a2a" stroke-width="0.75"/>
<rect x="316.00" y="185.90" width="4.0" height="4.0" fill="#fff" stroke="#2a2a2a" stroke-width="0.75"/>
<rect x="317.80" y="195.60" width="4.0" height="4.0" fill="#fff" stroke="#2a2a2a" stroke-width="0.75"/>
<rect x="319.60" y="207.50" width="4.0" height="4.0" fill="#fff" stroke="#2a2a2a" stroke-width="0.75"/>
<rect x="321.00" y="218.70" width="4.0" height="4.0" fill="#fff" stroke="#2a2a2a" stroke-width="0.75"/>
<rect x="322.30" y="228.70" width="4.0" height="4.0" fill="#fff" stroke="#2a2a2a" stroke-width="0.75"/>
<rect x="323.90" y="240.00" width="4.0" height="4.0" fill="#fff" stroke="#2a2a2a" stroke-width="0.75"/>
<rect x="325.70" y="247.40" width="4.0" height="4.0" fill="#fff" stroke="#2a2a2a" stroke-width="0.75"/>
<rect x="327.50" y="253.70" width="4.0" height="4.0" fill="#fff" stroke="#2a2a2a" stroke-width="0.75"/>
<rect x="329.30" y="259.20" width="4.0" height="4.0" fill="#fff" stroke="#2a2a2a" stroke-width="0.75"/>
<rect x="331.10" y="263.70" width="4.0" height="4.0" fill="#fff" stroke="#2a2a2a" stroke-width="0.75"/>
<rect x="332.80" y="267.30" width="4.0" height="4.0" fill="#fff" stroke="#2a2a2a" stroke-width="0.75"/>
<rect x="334.00" y="270.00" width="4.0" height="4.0" fill="#fff" stroke="#2a2a2a" stroke-width="0.75"/>
<line x1="282.00" y1="245.90" x2="294.80" y2="245.90" stroke="#222" stroke-width="1.2"/>
<path d="M277.8,245.9 L283,244.2 L283,247.6 Z" fill="#111"/>
<line x1="303.50" y1="260.60" x2="315.50" y2="260.60" stroke="#222" stroke-width="1.1"/>
<path d="M319.3,260.6 L314.2,258.9 L314.2,262.3 Z" fill="#111"/>
</svg>
</body></html>
